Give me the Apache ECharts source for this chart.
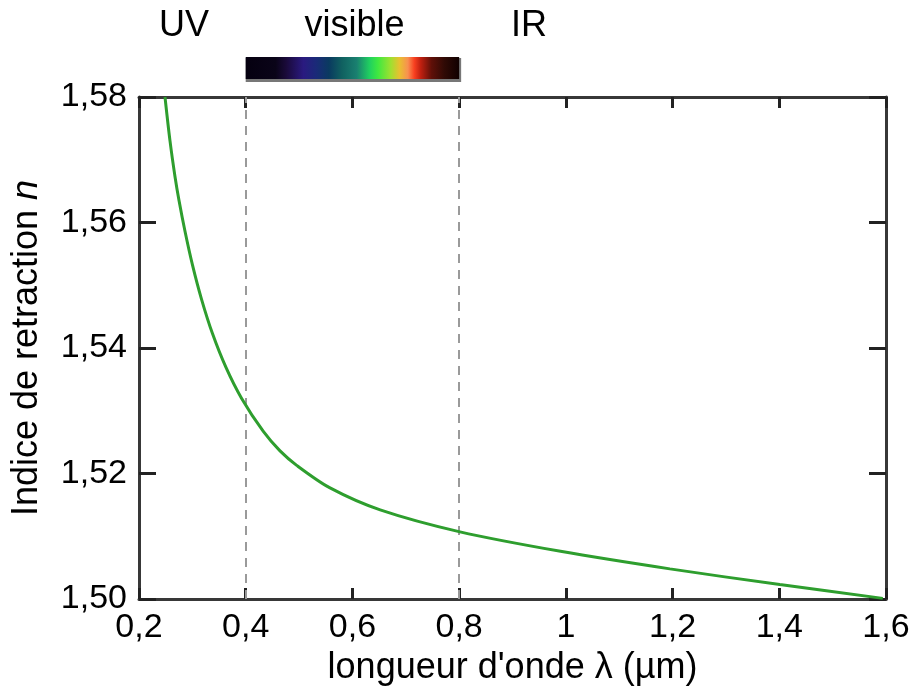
<!DOCTYPE html>
<html>
<head>
<meta charset="utf-8">
<script src="https://cdn.jsdelivr.net/npm/echarts@6/dist/echarts.min.js"></script>
<style>
html,body{margin:0;padding:0;background:#fff;}
#c{width:918px;height:694px;}
</style>
</head>
<body>
<div id="c"></div>
<script>
// wavelength (µm)
var wavelengths = [0.2487, 0.2581, 0.2675, 0.2750, 0.2862, 0.3003, 0.3171, 0.3377, 0.3630, 0.3921, 0.433, 0.4643, 0.4955, 0.558, 0.652, 0.8016, 0.99, 1.195, 1.401, 1.594];
// refractive index n
var indices = [1.5800, 1.5730, 1.5673, 1.5635, 1.5586, 1.5532, 1.5478, 1.5423, 1.5369, 1.5320, 1.5267, 1.5236, 1.5213, 1.5177, 1.5142, 1.5107, 1.5076, 1.5048, 1.5023, 1.5001];
var xTicks = [0.2, 0.4, 0.6, 0.8, 1.0, 1.2, 1.4, 1.6];
var xTickLabels = ['0,2', '0,4', '0,6', '0,8', '1', '1,2', '1,4', '1,6'];
var yTicks = [1.50, 1.52, 1.54, 1.56, 1.58];
var yTickLabels = ['1,50', '1,52', '1,54', '1,56', '1,58'];
var visibleRange = [0.4, 0.8];
var bandLabels = ['UV', 'visible', 'IR'];

var FONT = '"Liberation Sans", Arial, sans-serif';
var chart = echarts.init(document.getElementById('c'), null, {renderer: 'canvas'});

function lbl(list, labels, v) {
  for (var i = 0; i < list.length; i++) {
    if (Math.abs(list[i] - v) < 1e-6) return labels[i];
  }
  return '';
}

var points = wavelengths.map(function (w, i) { return [w, indices[i]]; });

var axisLine = {show: true, lineStyle: {color: '#383838', width: 3}};
var option = {
  animation: false,
  backgroundColor: '#fff',
  grid: {left: 139, right: 32, top: 97, bottom: 95, containLabel: false},
  xAxis: [{
    type: 'value', min: 0.2, max: 1.6, interval: 0.2,
    axisLine: axisLine,
    axisTick: {show: true, inside: true, length: 11, lineStyle: {color: '#222', width: 3}},
    splitLine: {show: false},
    axisLabel: {margin: 12, color: '#000', fontSize: 34, fontFamily: FONT,
      formatter: function (v) { return lbl(xTicks, xTickLabels, v); }},
    name: "longueur d'onde λ (µm)", nameLocation: 'middle', nameGap: 50,
    nameTextStyle: {color: '#000', fontSize: 36, fontFamily: FONT}
  }, {
    type: 'value', min: 0.2, max: 1.6, interval: 0.2, position: 'top',
    axisLine: axisLine,
    axisTick: {show: true, inside: true, length: 11, lineStyle: {color: '#222', width: 3}},
    splitLine: {show: false}, axisLabel: {show: false}
  }],
  yAxis: [{
    type: 'value', min: 1.50, max: 1.58, interval: 0.02,
    axisLine: axisLine,
    axisTick: {show: true, inside: true, length: 17, lineStyle: {color: '#222', width: 3}},
    splitLine: {show: false},
    axisLabel: {margin: 12, color: '#000', fontSize: 34, fontFamily: FONT,
      formatter: function (v) { return lbl(yTicks, yTickLabels, v); }},
    name: '{a|Indice de retraction }{b|n}', nameLocation: 'middle', nameGap: 94, nameRotate: 90,
    nameTextStyle: {color: '#000', fontSize: 36, fontFamily: FONT,
      rich: {a: {fontSize: 36, fontFamily: FONT, color: '#000'},
             b: {fontSize: 36, fontFamily: FONT, color: '#000', fontStyle: 'italic'}}}
  }, {
    type: 'value', min: 1.50, max: 1.58, interval: 0.02, position: 'right',
    axisLine: axisLine,
    axisTick: {show: true, inside: true, length: 17, lineStyle: {color: '#222', width: 3}},
    splitLine: {show: false}, axisLabel: {show: false}
  }],
  series: [{
    type: 'line',
    data: points,
    smooth: 0.3,
    showSymbol: false,
    symbol: 'none',
    clip: true,
    lineStyle: {color: '#2e9e2e', width: 3},
    z: 5,
    markLine: {
      silent: true, symbol: 'none',
      label: {show: false},
      lineStyle: {color: '#9a9a9a', type: [9, 7], width: 2},
      data: visibleRange.map(function (v) { return {xAxis: v}; })
    }
  }]
};
chart.setOption(option);

var x0 = chart.convertToPixel({xAxisIndex: 0}, visibleRange[0]);
var x1 = chart.convertToPixel({xAxisIndex: 0}, visibleRange[1]);
var gradStops = [
  [0, '#050010'], [0.14, '#0a0418'], [0.19, '#1a0a3a'], [0.27, '#2a1a80'], [0.33, '#1a2a78'],
  [0.39, '#0a3a60'], [0.45, '#106060'], [0.52, '#1a8070'], [0.58, '#20d060'], [0.62, '#40e840'],
  [0.68, '#a0e030'], [0.72, '#e8c030'], [0.76, '#f89050'], [0.79, '#f84020'], [0.82, '#c02010'],
  [0.87, '#601008'], [0.93, '#300a05'], [1, '#100000']
];
chart.setOption({
  graphic: [
    {type: 'rect', shape: {x: x0, y: 58, width: x1 - x0 + 2, height: 24}, style: {fill: '#777'}, z: 10},
    {type: 'rect', shape: {x: x0, y: 57, width: x1 - x0, height: 22},
      style: {fill: new echarts.graphic.LinearGradient(0, 0, 1, 0, gradStops.map(function (s) { return {offset: s[0], color: s[1]}; }))}, z: 11},
    {type: 'text', x: 184, y: 26, style: {text: bandLabels[0], fontSize: 36, fontFamily: FONT, fill: '#000', align: 'center', verticalAlign: 'middle'}, z: 12},
    {type: 'text', x: (x0 + x1) / 2 + 2, y: 26, style: {text: bandLabels[1], fontSize: 36, fontFamily: FONT, fill: '#000', align: 'center', verticalAlign: 'middle'}, z: 12},
    {type: 'text', x: 529, y: 26, style: {text: bandLabels[2], fontSize: 36, fontFamily: FONT, fill: '#000', align: 'center', verticalAlign: 'middle'}, z: 12}
  ]
});
</script>
</body>
</html>
